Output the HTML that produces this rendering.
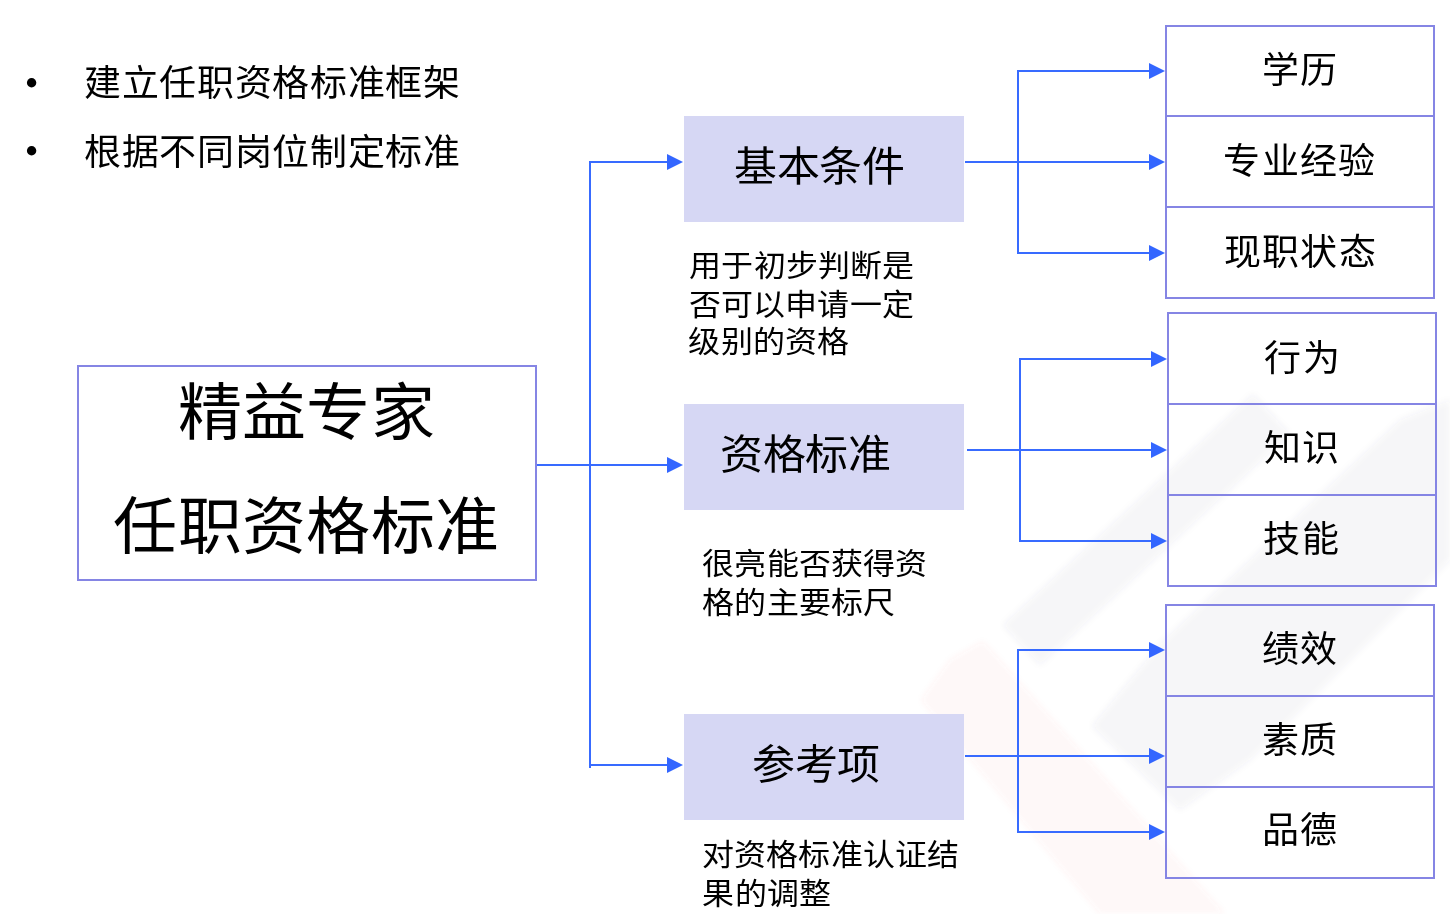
<!DOCTYPE html>
<html lang="zh-CN">
<head>
<meta charset="utf-8">
<style>
html,body{margin:0;padding:0;background:#fff;}
body{width:1450px;height:914px;position:relative;overflow:hidden;font-family:"Liberation Sans",sans-serif;color:#000;}
.t{position:absolute;white-space:nowrap;line-height:1;transform-origin:0 0;}
.box{position:absolute;box-sizing:border-box;}
.fill{position:absolute;background:#d6d7f4;}
svg{position:absolute;left:0;top:0;}
</style>
</head>
<body>
<!-- watermark -->
<svg width="1450" height="914" style="z-index:0">
  <defs><filter id="bl" x="-20%" y="-20%" width="140%" height="140%"><feGaussianBlur stdDeviation="3"/></filter></defs>
  <g filter="url(#bl)">
  <g fill="rgb(60,60,120)" fill-opacity="0.05">
    <polygon points="1003,625 1253,394 1290,434 1040,665"/>
    <polygon points="1092,726 1160,644 1400,420 1450,400 1450,560 1250,760 1180,810"/>
  </g>
  <g fill="rgb(230,80,70)" fill-opacity="0.045">
    <polygon points="921,700 950,660 983,641 1225,914 1100,914"/>
  </g>
  </g>
</svg>

<!-- bullets -->
<svg width="1450" height="914" style="z-index:1">
  <circle cx="31.6" cy="82.7" r="4.7" fill="#000"/>
  <circle cx="31.6" cy="150.7" r="4.7" fill="#000"/>
</svg>

<!-- big box -->
<div class="box" style="left:77px;top:365px;width:460px;height:216px;border:2px solid #8585e4;"></div>

<!-- purple boxes -->
<div class="fill" style="left:684px;top:116px;width:280px;height:106px"></div>
<div class="fill" style="left:684px;top:404px;width:280px;height:106px"></div>
<div class="fill" style="left:684px;top:714px;width:280px;height:106px"></div>

<!-- descriptions -->

<!-- right groups -->
<div class="box" style="left:1165px;top:25px;width:270px;height:274px;border:2px solid #8585e4;"></div>
<div class="box" style="left:1165px;top:115px;width:270px;height:2px;background:#8585e4;"></div>
<div class="box" style="left:1165px;top:206px;width:270px;height:2px;background:#8585e4;"></div>

<div class="box" style="left:1167px;top:312px;width:270px;height:275px;border:2px solid #8585e4;"></div>
<div class="box" style="left:1167px;top:403px;width:270px;height:2px;background:#8585e4;"></div>
<div class="box" style="left:1167px;top:494px;width:270px;height:2px;background:#8585e4;"></div>

<div class="box" style="left:1165px;top:604px;width:270px;height:275px;border:2px solid #8585e4;"></div>
<div class="box" style="left:1165px;top:695px;width:270px;height:2px;background:#8585e4;"></div>
<div class="box" style="left:1165px;top:786px;width:270px;height:2px;background:#8585e4;"></div>


<!-- connectors -->
<svg width="1450" height="914" style="z-index:2" shape-rendering="crispEdges">
  <g fill="#386bff">
    <!-- left -->
    <rect x="537" y="464" width="131" height="2"/>
    <rect x="589" y="161" width="2" height="607"/>
    <rect x="589" y="161" width="79" height="2"/>
    <rect x="589" y="764" width="79" height="2"/>
    <!-- G1 -->
    <rect x="965" y="161" width="185" height="2"/>
    <rect x="1017" y="70" width="2" height="184"/>
    <rect x="1017" y="70" width="133" height="2"/>
    <rect x="1017" y="252" width="133" height="2"/>
    <!-- G2 -->
    <rect x="967" y="449" width="185" height="2"/>
    <rect x="1019" y="358" width="2" height="184"/>
    <rect x="1019" y="358" width="133" height="2"/>
    <rect x="1019" y="540" width="133" height="2"/>
    <!-- G3 -->
    <rect x="965" y="755" width="185" height="2"/>
    <rect x="1017" y="649" width="2" height="184"/>
    <rect x="1017" y="649" width="133" height="2"/>
    <rect x="1017" y="831" width="133" height="2"/>
  </g>
</svg>
<svg width="1450" height="914" style="z-index:3">
  <g fill="#3366ff">
    <path d="M667 154 L683 162 L667 170 Z"/>
    <path d="M667 457 L683 465 L667 473 Z"/>
    <path d="M667 757 L683 765 L667 773 Z"/>
    <path d="M1149 63 L1165 71 L1149 79 Z"/>
    <path d="M1149 154 L1165 162 L1149 170 Z"/>
    <path d="M1149 245 L1165 253 L1149 261 Z"/>
    <path d="M1151 351 L1167 359 L1151 367 Z"/>
    <path d="M1151 442 L1167 450 L1151 458 Z"/>
    <path d="M1151 533 L1167 541 L1151 549 Z"/>
    <path d="M1149 642 L1165 650 L1149 658 Z"/>
    <path d="M1149 748 L1165 756 L1149 764 Z"/>
    <path d="M1149 824 L1165 832 L1149 840 Z"/>
  </g>
</svg>
<div class="t" style="left:84.25px;top:65.87px;font-size:37px;letter-spacing:0.610px;transform:scaleY(0.9720)">建立任职资格标准框架</div>
<div class="t" style="left:84.25px;top:134.65px;font-size:37px;letter-spacing:0.610px;transform:scaleY(0.9720)">根据不同岗位制定标准</div>
<div class="t" style="left:177.60px;top:381.54px;font-size:64px;letter-spacing:0.370px;transform:scaleY(0.9750)">精益专家</div>
<div class="t" style="left:113.30px;top:495.75px;font-size:64px;letter-spacing:0.370px;transform:scaleY(0.9750)">任职资格标准</div>
<div class="t" style="left:734.20px;top:147.18px;font-size:43px;letter-spacing:-0.500px;transform:scaleY(0.9390)">基本条件</div>
<div class="t" style="left:720.25px;top:434.99px;font-size:43px;letter-spacing:-0.500px;transform:scaleY(0.9390)">资格标准</div>
<div class="t" style="left:752.35px;top:744.99px;font-size:43px;letter-spacing:-0.500px;transform:scaleY(0.9390)">参考项</div>
<div class="t" style="left:689.15px;top:250.51px;font-size:32px;letter-spacing:0.200px;transform:scaleY(0.9380)">用于初步判断是</div>
<div class="t" style="left:688.65px;top:289.85px;font-size:32px;letter-spacing:0.200px;transform:scaleY(0.9380)">否可以申请一定</div>
<div class="t" style="left:688.45px;top:327.35px;font-size:32px;letter-spacing:0.200px;transform:scaleY(0.9380)">级别的资格</div>
<div class="t" style="left:702.30px;top:548.51px;font-size:32px;letter-spacing:0.200px;transform:scaleY(0.9380)">很亮能否获得资</div>
<div class="t" style="left:702.25px;top:587.54px;font-size:32px;letter-spacing:0.200px;transform:scaleY(0.9380)">格的主要标尺</div>
<div class="t" style="left:701.85px;top:839.54px;font-size:32px;letter-spacing:0.200px;transform:scaleY(0.9380)">对资格标准认证结</div>
<div class="t" style="left:702.45px;top:879.00px;font-size:32px;letter-spacing:0.200px;transform:scaleY(0.9380)">果的调整</div>
<div class="t" style="left:1262.00px;top:51.54px;font-size:37px;letter-spacing:1.330px;transform:scaleY(0.9840)">学历</div>
<div class="t" style="left:1223.25px;top:142.64px;font-size:37px;letter-spacing:1.330px;transform:scaleY(0.9840)">专业经验</div>
<div class="t" style="left:1223.75px;top:233.93px;font-size:37px;letter-spacing:1.330px;transform:scaleY(0.9840)">现职状态</div>
<div class="t" style="left:1264.25px;top:340.29px;font-size:37px;letter-spacing:1.330px;transform:scaleY(0.9840)">行为</div>
<div class="t" style="left:1263.85px;top:429.66px;font-size:37px;letter-spacing:1.330px;transform:scaleY(0.9840)">知识</div>
<div class="t" style="left:1263.35px;top:521.09px;font-size:37px;letter-spacing:1.330px;transform:scaleY(0.9840)">技能</div>
<div class="t" style="left:1261.85px;top:631.22px;font-size:37px;letter-spacing:1.330px;transform:scaleY(0.9840)">绩效</div>
<div class="t" style="left:1261.85px;top:721.89px;font-size:37px;letter-spacing:1.330px;transform:scaleY(0.9840)">素质</div>
<div class="t" style="left:1261.55px;top:812.32px;font-size:37px;letter-spacing:1.330px;transform:scaleY(0.9840)">品德</div>
</body>
</html>
